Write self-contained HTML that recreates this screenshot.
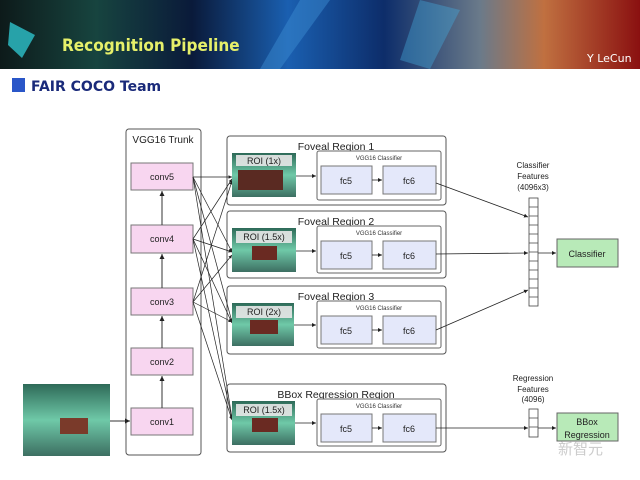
<!DOCTYPE html>
<html><head><meta charset="utf-8"><style>
body{margin:0;width:640px;height:480px;overflow:hidden;background:#fff;font-family:"Liberation Sans",sans-serif}
svg{position:absolute;left:0;top:0}
</style></head><body>
<svg width="640" height="480" viewBox="0 0 640 480" font-family="Liberation Sans, sans-serif">
<defs>
<linearGradient id="bg" x1="0" x2="1" y1="0" y2="0">
<stop offset="0" stop-color="#0d1a1a"/><stop offset="0.15" stop-color="#17443f"/><stop offset="0.3" stop-color="#0a1a3a"/><stop offset="0.45" stop-color="#1a5fb0"/><stop offset="0.6" stop-color="#0d2d6a"/><stop offset="0.75" stop-color="#6a7a8a"/><stop offset="0.85" stop-color="#c07040"/><stop offset="1" stop-color="#8a1010"/></linearGradient>
<marker id="a" markerWidth="6" markerHeight="6" refX="5" refY="3" orient="auto"><path d="M0,0.5 L5,3 L0,5.5z" fill="#222"/></marker>
<linearGradient id="img" x1="0" x2="0" y1="0" y2="1"><stop offset="0" stop-color="#2e6a58"/><stop offset="0.5" stop-color="#6fc9a8"/><stop offset="1" stop-color="#3d6f62"/></linearGradient>
</defs>
<rect x="0" y="0" width="640" height="69" fill="url(#bg)"/>
<polygon points="10,22 35,35 22,58 8,45" fill="#2ab0b8" opacity="0.9"/>
<polygon points="300,0 330,0 280,69 260,69" fill="#3a8ad0" opacity="0.5"/>
<polygon points="420,0 460,10 430,69 400,60" fill="#44aadd" opacity="0.4"/>
<text x="62" y="51" font-size="17" fill="#e6f06a" font-weight="bold" font-family="DejaVu Sans Condensed, DejaVu Sans, sans-serif">Recognition Pipeline</text>
<text x="587" y="62" font-size="11" fill="#fff" font-family="DejaVu Sans, sans-serif">Y LeCun</text>
<rect x="12" y="78" width="13" height="14" fill="#2a56c8"/>
<text x="31" y="91" font-size="14" fill="#1a2a7a" font-weight="bold" font-family="DejaVu Sans, sans-serif">FAIR COCO Team</text>

<g stroke="#555" fill="none" stroke-width="1">
<rect x="126" y="129" width="75" height="326" rx="3"/>
<rect x="227" y="136" width="219" height="69" rx="3"/>
<rect x="227" y="211" width="219" height="67" rx="3"/>
<rect x="227" y="286" width="219" height="68" rx="3"/>
<rect x="227" y="384" width="219" height="68" rx="3"/>
</g>
<text x="163" y="143" font-size="10" text-anchor="middle" fill="#222">VGG16 Trunk</text>
<g font-size="10.5" text-anchor="middle" fill="#222">
<text x="336" y="150">Foveal Region 1</text>
<text x="336" y="225">Foveal Region 2</text>
<text x="336" y="300">Foveal Region 3</text>
<text x="336" y="398">BBox Regression Region</text>
</g>
<g fill="#f8d6f0" stroke="#777">
<rect x="131" y="163" width="62" height="27"/><rect x="131" y="225" width="62" height="28"/>
<rect x="131" y="288" width="62" height="27"/><rect x="131" y="348" width="62" height="27"/>
<rect x="131" y="408" width="62" height="27"/>
</g>
<g font-size="9" text-anchor="middle" fill="#222">
<text x="162" y="180">conv5</text><text x="162" y="242">conv4</text><text x="162" y="305">conv3</text><text x="162" y="365">conv2</text><text x="162" y="425">conv1</text>
</g>
<g stroke="#333" marker-end="url(#a)">
<line x1="162" y1="408" x2="162" y2="376"/><line x1="162" y1="348" x2="162" y2="316"/>
<line x1="162" y1="288" x2="162" y2="254"/><line x1="162" y1="225" x2="162" y2="191"/>
<line x1="110" y1="421" x2="130" y2="421"/>
</g>
<rect x="23" y="384" width="87" height="72" fill="url(#img)"/>
<rect x="60" y="418" width="28" height="16" fill="#7a3a2a"/>
<g stroke="#222" stroke-width="0.7" marker-end="url(#a)">
<line x1="193" y1="177" x2="232" y2="177"/><line x1="193" y1="177" x2="232" y2="252"/><line x1="193" y1="177" x2="232" y2="322"/><line x1="193" y1="177" x2="232" y2="418"/>
<line x1="193" y1="239" x2="232" y2="179"/><line x1="193" y1="239" x2="232" y2="252"/><line x1="193" y1="239" x2="232" y2="323"/><line x1="193" y1="239" x2="232" y2="419"/>
<line x1="193" y1="302" x2="232" y2="181"/><line x1="193" y1="302" x2="232" y2="255"/><line x1="193" y1="302" x2="232" y2="322"/><line x1="193" y1="302" x2="232" y2="420"/>
</g>
<g>
<rect x="232" y="153" width="64" height="44" fill="url(#img)"/><rect x="238" y="170" width="45" height="20" fill="#5a2a22"/>
<rect x="232" y="228" width="64" height="44" fill="url(#img)"/><rect x="252" y="246" width="25" height="14" fill="#6a2a22"/>
<rect x="232" y="303" width="62" height="43" fill="url(#img)"/><rect x="250" y="320" width="28" height="14" fill="#6a2a22"/>
<rect x="232" y="401" width="63" height="44" fill="url(#img)"/><rect x="252" y="418" width="26" height="14" fill="#6a2a22"/>
<g fill="#e8e8e8" opacity="0.9"><rect x="236" y="155" width="56" height="11"/><rect x="236" y="231" width="56" height="12"/><rect x="236" y="306" width="56" height="12"/><rect x="236" y="404" width="56" height="12"/></g>
<g font-size="9" text-anchor="middle" fill="#222"><text x="264" y="164">ROI (1x)</text><text x="264" y="240">ROI (1.5x)</text><text x="264" y="315">ROI (2x)</text><text x="264" y="413">ROI (1.5x)</text></g>
</g>
<g stroke="#666" fill="#fff">
<rect x="317" y="151" width="124" height="49" rx="2"/><rect x="317" y="226" width="124" height="47" rx="2"/>
<rect x="317" y="301" width="124" height="47" rx="2"/><rect x="317" y="399" width="124" height="47" rx="2"/>
</g>
<g fill="#e4e8fa" stroke="#777">
<rect x="321" y="166" width="51" height="28"/><rect x="383" y="166" width="53" height="28"/>
<rect x="321" y="241" width="51" height="28"/><rect x="383" y="241" width="53" height="28"/>
<rect x="321" y="316" width="51" height="28"/><rect x="383" y="316" width="53" height="28"/>
<rect x="321" y="414" width="51" height="28"/><rect x="383" y="414" width="53" height="28"/>
</g>
<g font-size="6" text-anchor="middle" fill="#333"><text x="379" y="160">VGG16 Classifier</text><text x="379" y="235">VGG16 Classifier</text><text x="379" y="310">VGG16 Classifier</text><text x="379" y="408">VGG16 Classifier</text></g>
<g font-size="9" text-anchor="middle" fill="#222">
<text x="346" y="184">fc5</text><text x="409" y="184">fc6</text><text x="346" y="259">fc5</text><text x="409" y="259">fc6</text>
<text x="346" y="334">fc5</text><text x="409" y="334">fc6</text><text x="346" y="432">fc5</text><text x="409" y="432">fc6</text>
</g>
<g stroke="#222" stroke-width="0.8" marker-end="url(#a)">
<line x1="296" y1="176" x2="316" y2="176"/><line x1="296" y1="251" x2="316" y2="251"/><line x1="294" y1="325" x2="316" y2="325"/><line x1="295" y1="423" x2="316" y2="423"/>
<line x1="372" y1="180" x2="382" y2="180"/><line x1="372" y1="255" x2="382" y2="255"/><line x1="372" y1="330" x2="382" y2="330"/><line x1="372" y1="428" x2="382" y2="428"/>
<line x1="436" y1="183" x2="528" y2="217"/><line x1="436" y1="254" x2="528" y2="253"/><line x1="436" y1="330" x2="528" y2="290"/>
<line x1="436" y1="428" x2="528" y2="428"/>
<line x1="538" y1="253" x2="556" y2="253"/><line x1="538" y1="428" x2="556" y2="428"/>
</g>
<g stroke="#444" fill="#fff" stroke-width="0.8">
<rect x="529" y="198" width="9" height="108"/>
<path d="M529,207h9M529,216h9M529,225h9M529,234h9M529,243h9M529,252h9M529,261h9M529,270h9M529,279h9M529,288h9M529,297h9"/>
<rect x="529" y="409" width="9" height="28"/><path d="M529,418h9M529,427h9"/>
</g>
<rect x="557" y="239" width="61" height="28" fill="#b8eab8" stroke="#666"/>
<rect x="557" y="413" width="61" height="28" fill="#b8eab8" stroke="#666"/>
<g font-size="9" text-anchor="middle" fill="#222">
<text x="587" y="257">Classifier</text><text x="587" y="425">BBox</text><text x="587" y="438">Regression</text>
<text font-size="8" x="533" y="168">Classifier</text><text font-size="8" x="533" y="179">Features</text><text font-size="8" x="533" y="190">(4096x3)</text>
<text font-size="8" x="533" y="381">Regression</text><text font-size="8" x="533" y="392">Features</text><text font-size="8" x="533" y="402">(4096)</text>
</g>
<text x="558" y="454" font-size="15" fill="#ccc" font-family="Noto Sans CJK SC, sans-serif">新智元</text>
</svg>
</body></html>
